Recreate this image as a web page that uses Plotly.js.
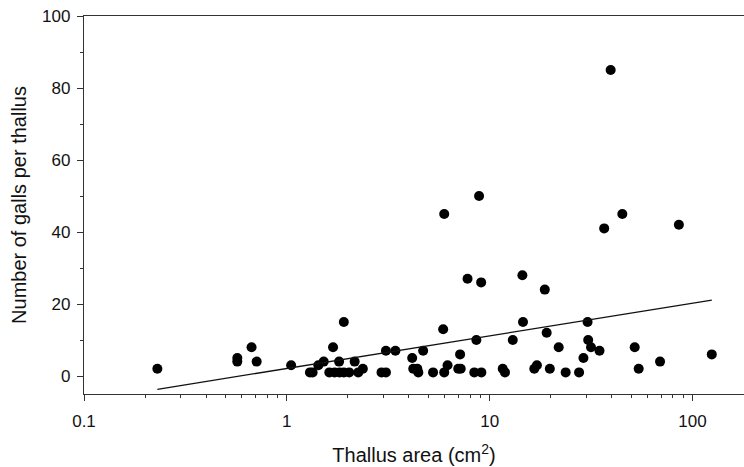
<!DOCTYPE html>
<html>
<head>
<meta charset="utf-8">
<script src="https://cdn.plot.ly/plotly-3.0.1.min.js"></script>
<style>html,body{margin:0;padding:0;background:#fff;}#chart{width:744px;height:467px;}</style>
</head>
<body>
<div id="chart"></div>
<script>
// Thallus area (cm^2) and number of galls per thallus
const thallusArea = [0.23, 0.57, 0.57, 0.67, 0.71, 1.05, 1.30, 1.34, 1.43, 1.52,
  1.69, 1.62, 1.72, 1.81, 1.91, 1.82, 1.91, 2.03, 2.16, 2.25,
  2.37, 3.08, 3.43, 2.93, 3.08, 4.15, 4.2, 4.4, 4.45, 4.7,
  5.26, 5.9, 5.97, 6.2, 7.0, 7.2, 7.15, 8.4, 9.1, 8.6,
  11.6, 11.9, 13.0, 14.6, 16.6, 17.1, 19.1, 19.8, 21.9, 23.7,
  27.6, 29.0, 30.4, 30.6, 31.6, 34.8, 51.9, 54.3, 69.2, 124.5,
  39.5, 8.87, 5.97, 45.1, 36.7, 85.7, 7.78, 9.08, 14.5, 18.7];
const gallCount = [2, 5, 4, 8, 4, 3, 1, 1, 3, 4,
  8, 1, 1, 4, 15, 1, 1, 1, 4, 1,
  2, 7, 7, 1, 1, 5, 2, 2, 1, 7,
  1, 13, 1, 3, 2, 2, 6, 1, 1, 10,
  2, 1, 10, 15, 2, 3, 12, 2, 8, 1,
  1, 5, 15, 10, 8, 7, 8, 2, 4, 6,
  85, 50, 45, 45, 41, 42, 27, 26, 28, 24];
// regression line end points
const fitX = [0.23, 124.5];
const fitY = [-3.7, 21.1];

const yTickVals = [0, 20, 40, 60, 80, 100];
const yMinorVals = [10, 30, 50, 70, 90];
const xTickVals = [0.1, 1, 10, 100];
const xTickText = ['0.1', '1', '10', '100'];
const xMinorVals = [0.2, 0.3, 0.4, 0.5, 0.6, 0.7, 0.8, 0.9,
  2, 3, 4, 5, 6, 7, 8, 9, 20, 30, 40, 50, 60, 70, 80, 90];

const font = 'Liberation Sans, Arial, sans-serif';

const traces = [
  {x: thallusArea, y: gallCount, type: 'scatter', mode: 'markers',
   marker: {color: '#000', size: 10}, hoverinfo: 'x+y', showlegend: false},
  {x: fitX, y: fitY, type: 'scatter', mode: 'lines',
   line: {color: '#111', width: 1.3}, hoverinfo: 'skip', showlegend: false}
];

const layout = {
  width: 744, height: 467,
  margin: {l: 84, r: 0, t: 16, b: 73},
  paper_bgcolor: '#fff', plot_bgcolor: '#fff',
  font: {family: font, color: '#111', size: 17},
  xaxis: {
    type: 'log', range: [-1, 2.254],
    tickvals: xTickVals, ticktext: xTickText,
    ticks: 'outside', ticklen: 6, tickwidth: 1, tickcolor: '#333',
    showline: true, linecolor: '#333', linewidth: 1.2, mirror: true,
    showgrid: false, zeroline: false,
    minor: {tickvals: xMinorVals, ticks: 'outside', ticklen: 3, tickwidth: 1, tickcolor: '#333', showgrid: false},
    tickfont: {family: font, size: 17, color: '#111'},
    ticklabelstandoff: 5,
    title: {text: 'Thallus area (cm<sup>2</sup>)', font: {family: font, size: 20, color: '#111'}, standoff: 18}
  },
  yaxis: {
    range: [-5, 100],
    tickvals: yTickVals,
    ticks: 'outside', ticklen: 6, tickwidth: 1, tickcolor: '#333',
    showline: true, linecolor: '#333', linewidth: 1.2,
    showgrid: false, zeroline: false,
    minor: {tickvals: yMinorVals, ticks: 'outside', ticklen: 3, tickwidth: 1, tickcolor: '#333', showgrid: false},
    tickfont: {family: font, size: 17, color: '#111'},
    ticklabelstandoff: 3,
    title: {text: 'Number of galls per thallus', font: {family: font, size: 20, color: '#111'}, standoff: 10}
  }
};

Plotly.newPlot('chart', traces, layout, {staticPlot: true, displayModeBar: false});
</script>
</body>
</html>
